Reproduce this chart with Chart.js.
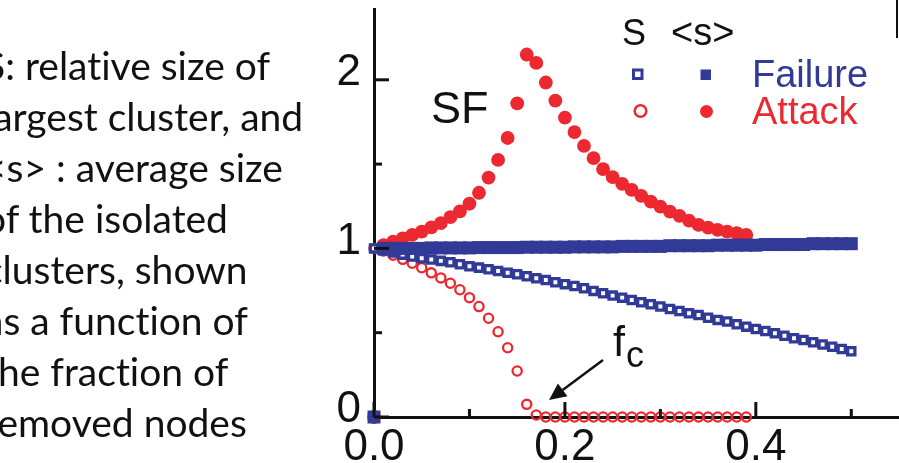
<!DOCTYPE html>
<html>
<head>
<meta charset="utf-8">
<script src="https://cdn.jsdelivr.net/npm/chart.js@4.4.1/dist/chart.umd.min.js"></script>
<style>
  html, body { margin: 0; padding: 0; background: #fff; }
  #wrap { position: relative; width: 899px; height: 463px; overflow: hidden; }
  #chart { position: absolute; left: 0; top: 0; }
  #caption { position: absolute; left: -16px; top: 40px; font-family: Lato, sans-serif; font-size: 39px; line-height: 51px; color: #111; white-space: nowrap; font-variant-ligatures: none; }
</style>
</head>
<body>
<div id="wrap">
  <canvas id="chart" width="899" height="463"></canvas>
  <div id="caption"></div>
</div>
<script>
// fraction of removed nodes (one point every 0.01)
const fraction = [
  0.00, 0.01, 0.02, 0.03, 0.04, 0.05, 0.06, 0.07, 0.08, 0.09,
  0.10, 0.11, 0.12, 0.13, 0.14, 0.15, 0.16, 0.17, 0.18, 0.19,
  0.20, 0.21, 0.22, 0.23, 0.24, 0.25, 0.26, 0.27, 0.28, 0.29,
  0.30, 0.31, 0.32, 0.33, 0.34, 0.35, 0.36, 0.37, 0.38, 0.39,
  0.40, 0.41, 0.42, 0.43, 0.44, 0.45, 0.46, 0.47, 0.48, 0.49, 0.50
];

// S, failure (open squares)
const failureS = [
  1.000, 0.988, 0.976, 0.963, 0.952, 0.942, 0.934, 0.926, 0.918, 0.906,
  0.894, 0.886, 0.876, 0.866, 0.856, 0.847, 0.835, 0.823, 0.813, 0.799,
  0.788, 0.777, 0.764, 0.748, 0.734, 0.720, 0.708, 0.694, 0.681, 0.669,
  0.655, 0.641, 0.629, 0.615, 0.605, 0.589, 0.576, 0.566, 0.550, 0.536,
  0.522, 0.510, 0.497, 0.482, 0.467, 0.457, 0.443, 0.430, 0.417, 0.403, 0.390
];

// <s>, failure (filled squares)
const failureMeanS = [
  0.000, 1.000, 1.000, 1.000, 1.000, 1.000, 1.003, 1.003, 1.003, 1.003,
  1.003, 1.005, 1.005, 1.005, 1.005, 1.005, 1.007, 1.007, 1.007, 1.007,
  1.007, 1.009, 1.009, 1.009, 1.009, 1.009, 1.012, 1.012, 1.012, 1.012,
  1.012, 1.016, 1.016, 1.016, 1.016, 1.016, 1.019, 1.019, 1.019, 1.019,
  1.019, 1.023, 1.023, 1.023, 1.023, 1.023, 1.028, 1.028, 1.028, 1.028, 1.028
];

// S, attack (open circles)
const attackS = [
  1.000, 0.985, 0.960, 0.935, 0.912, 0.885, 0.855, 0.825, 0.793, 0.755,
  0.708, 0.655, 0.586, 0.506, 0.411, 0.273, 0.075, 0.012, 0.000, 0.000,
  0.000, 0.000, 0.000, 0.000, 0.000, 0.000, 0.000, 0.000, 0.000, 0.000,
  0.000, 0.000, 0.000, 0.000, 0.000, 0.000, 0.000, 0.000, 0.000, 0.000
];

// <s>, attack (filled circles)
const attackMeanS = [
  0.000, 1.020, 1.040, 1.060, 1.080, 1.100, 1.125, 1.150, 1.185, 1.220,
  1.265, 1.330, 1.420, 1.525, 1.655, 1.860, 2.150, 2.100, 1.984, 1.877,
  1.776, 1.690, 1.608, 1.535, 1.470, 1.423, 1.383, 1.347, 1.312, 1.278,
  1.248, 1.218, 1.193, 1.165, 1.139, 1.123, 1.110, 1.100, 1.090, 1.080
];

const xMajorTicks = [0, 0.2, 0.4];
const xMinorTicks = [0.1, 0.3, 0.5];
const yMajorTicks = [0, 1, 2];
const yMinorTicks = [0.5, 1.5];

const captionLines = [
  'S: relative size of',
  'largest cluster, and',
  '<s> : average size',
  'of the isolated',
  'clusters, shown',
  'as a function of',
  'the fraction of',
  'removed nodes'
];

const BLUE = '#313a97';
const RED = '#ec2830';
const INK = '#111';
const SANS = '"Liberation Sans", Arial, Helvetica, sans-serif';

document.getElementById('caption').innerHTML =
  captionLines.map(l => l.replace(/</g, '&lt;').replace(/>/g, '&gt;')).join('<br>');

const pts = vals => vals.map((v, i) => ({ x: fraction[i], y: v }));

// no extra room around the plot for the tick labels
const noPadding = s => { s.paddingTop = 0; s.paddingBottom = 0; s.paddingLeft = 0; s.paddingRight = 0; };

// inward ticks, legend block and the annotations
const decorations = {
  id: 'decorations',
  afterDraw(chart) {
    const { ctx, scales: { x, y } } = chart;
    const x0 = x.getPixelForValue(0);
    const y0 = y.getPixelForValue(0);

    ctx.save();
    ctx.strokeStyle = INK;
    ctx.lineWidth = 3;
    const seg = (ax, ay, bx, by) => { ctx.beginPath(); ctx.moveTo(ax, ay); ctx.lineTo(bx, by); ctx.stroke(); };
    xMajorTicks.forEach(v => { const p = x.getPixelForValue(v); seg(p, y0, p, y0 - 15); });
    xMinorTicks.forEach(v => { const p = x.getPixelForValue(v); seg(p, y0, p, y0 - 8); });
    yMajorTicks.forEach(v => { const p = y.getPixelForValue(v); seg(x0, p, x0 + 15, p); });
    yMinorTicks.forEach(v => { const p = y.getPixelForValue(v); seg(x0, p, x0 + 8, p); });

    // bit of the right frame at the top
    ctx.lineWidth = 2;
    seg(897, 0, 897, 38);

    // legend
    ctx.textBaseline = 'alphabetic';
    ctx.fillStyle = INK;
    ctx.font = '36px ' + SANS;
    ctx.fillText('S', 622, 45);
    ctx.font = '38px ' + SANS;
    ctx.fillText('<s>', 671, 45);

    ctx.strokeStyle = BLUE;
    ctx.fillStyle = '#fff';
    ctx.lineWidth = 3;
    ctx.beginPath(); ctx.rect(633.5, 70, 8.5, 8.5); ctx.fill(); ctx.stroke();
    ctx.fillStyle = BLUE;
    ctx.fillRect(700.5, 69.5, 10.5, 10.5);

    ctx.strokeStyle = RED;
    ctx.lineWidth = 2.5;
    ctx.beginPath(); ctx.arc(640.5, 111, 5.8, 0, Math.PI * 2); ctx.stroke();
    ctx.fillStyle = RED;
    ctx.beginPath(); ctx.arc(706.5, 111.5, 6.5, 0, Math.PI * 2); ctx.fill();

    ctx.font = '38px ' + SANS;
    ctx.fillStyle = BLUE;
    ctx.fillText('Failure', 752, 87);
    ctx.fillStyle = RED;
    ctx.fillText('Attack', 752, 124);

    // annotations
    ctx.fillStyle = INK;
    ctx.font = '45px ' + SANS;
    ctx.fillText('SF', 431, 123);
    ctx.font = '43px ' + SANS;
    ctx.fillText('f', 613, 356);
    ctx.font = '36px ' + SANS;
    ctx.fillText('c', 626, 367);

    // arrow to f_c
    const ax = 603, ay = 360, tx = 549, ty = 400;
    const len = Math.hypot(tx - ax, ty - ay);
    const ux = (tx - ax) / len, uy = (ty - ay) / len;
    const bx = tx - ux * 17, by = ty - uy * 17;
    ctx.strokeStyle = INK;
    ctx.lineWidth = 2.5;
    seg(ax, ay, bx, by);
    ctx.beginPath();
    ctx.moveTo(tx, ty);
    ctx.lineTo(bx - uy * 8, by + ux * 8);
    ctx.lineTo(bx + uy * 8, by - ux * 8);
    ctx.closePath();
    ctx.fill();
    ctx.restore();
  }
};

new Chart(document.getElementById('chart'), {
  type: 'scatter',
  data: {
    datasets: [
      { label: '<s> Failure', data: pts(failureMeanS), clip: false,
        pointStyle: 'rect', pointRadius: 9.2, pointBackgroundColor: BLUE, pointBorderWidth: 0 },
      { label: 'S Failure', data: pts(failureS), clip: false,
        pointStyle: 'rect', pointRadius: 5.1, pointBackgroundColor: '#fff', pointBorderColor: BLUE, pointBorderWidth: 3.3 },
      { label: 'S Attack', data: pts(attackS), clip: false,
        pointStyle: 'circle', pointRadius: 4.6, pointBackgroundColor: 'rgba(0,0,0,0)', pointBorderColor: RED, pointBorderWidth: 2.3 },
      { label: '<s> Attack', data: pts(attackMeanS), clip: false,
        pointStyle: 'circle', pointRadius: 6.9, pointBackgroundColor: RED, pointBorderWidth: 0 }
    ]
  },
  options: {
    responsive: false,
    animation: false,
    devicePixelRatio: 1,
    layout: { autoPadding: false, padding: { top: 9, right: 0, bottom: 0, left: 0 } },
    plugins: { legend: { display: false }, tooltip: { enabled: false } },
    scales: {
      x: {
        type: 'linear', min: 0, max: 0.55,
        grid: { display: false },
        border: { display: true, color: INK, width: 3 },
        afterBuildTicks: s => { s.ticks = xMajorTicks.map(v => ({ value: v })); },
        afterFit: s => { s.height = 46; noPadding(s); },
        ticks: { color: INK, font: { family: SANS, size: 44 }, padding: -4, maxRotation: 0, autoSkip: false,
                 callback: v => v.toFixed(1) }
      },
      y: {
        type: 'linear', min: 0, max: 2.42,
        grid: { display: false },
        border: { display: true, color: INK, width: 3 },
        afterBuildTicks: s => { s.ticks = yMajorTicks.map(v => ({ value: v })); },
        afterFit: s => { s.width = 374; noPadding(s); },
        ticks: { color: INK, font: { family: SANS, size: 44 }, padding: 5, labelOffset: -7, autoSkip: false,
                 callback: v => String(v) }
      }
    }
  },
  plugins: [decorations]
});
</script>
</body>
</html>
